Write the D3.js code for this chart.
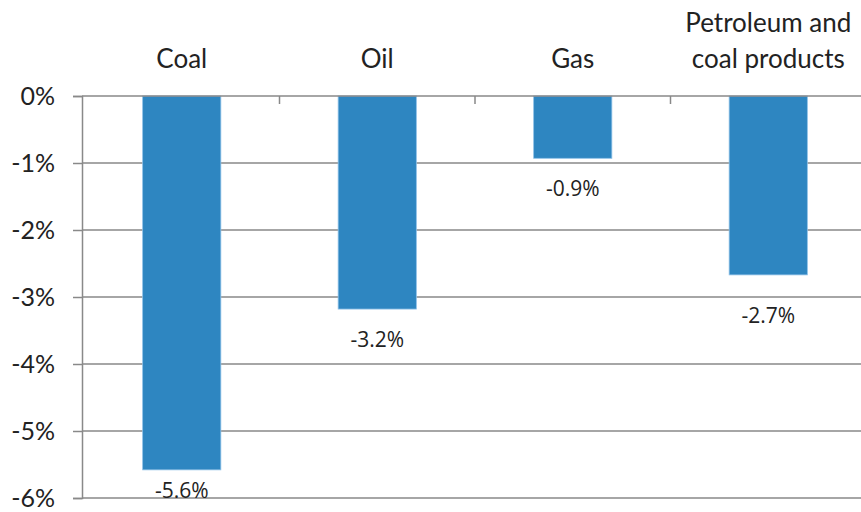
<!DOCTYPE html>
<html><head><meta charset="utf-8">
<script src="https://cdn.jsdelivr.net/npm/d3@7"></script>
<style>body{margin:0;background:#fff}</style>
</head><body>
<svg id="c" width="861" height="512"></svg>
<script>
const categories = [["Coal"], ["Oil"], ["Gas"], ["Petroleum and", "coal products"]];
const values = [-5.58, -3.18, -0.93, -2.67];
const yTicks = [0, -1, -2, -3, -4, -5, -6];

(function() {
const svg = d3.select("#c");
const mLeft = 82, mRight = 866, mTop = 96, mBottom = 498;
const x = d3.scaleBand().domain(d3.range(categories.length)).range([mLeft + 2, mRight]).paddingInner(0.6).paddingOuter(0.3);
const y = d3.scaleLinear().domain([0, -6]).range([mTop, mBottom]);
const grid = "#898989";

svg.append("g").selectAll("line").data(yTicks.filter(d => d !== 0)).join("line")
  .attr("x1", mLeft).attr("x2", 861).attr("y1", d => y(d)).attr("y2", d => y(d))
  .attr("stroke", grid).attr("stroke-width", 1.5);

svg.append("g").selectAll("rect").data(values).join("rect")
  .attr("x", (d, i) => x(i)).attr("width", x.bandwidth())
  .attr("y", y(0)).attr("height", d => y(d) - y(0))
  .attr("fill", "#2E86C1").attr("stroke", "#8FC1E8").attr("stroke-width", 0.8);

const yAxis = d3.axisLeft(y).tickValues(yTicks).tickSize(9).tickFormat(d => d + "%");
const ga = svg.append("g").attr("transform", `translate(${mLeft},0)`).call(yAxis);
ga.select(".domain").attr("stroke", grid).attr("stroke-width", 1.5);
ga.selectAll(".tick line").attr("stroke", grid).attr("stroke-width", 1.5);
ga.selectAll(".tick text").attr("font-family", "Lato, sans-serif").attr("font-size", 25)
  .attr("fill", "#222").attr("x", -27);

const bounds = d3.range(1, categories.length).map(i => x(i) - x.step() * x.paddingInner() / 2);
svg.append("line").attr("x1", mLeft).attr("x2", 861).attr("y1", y(0)).attr("y2", y(0))
  .attr("stroke", grid).attr("stroke-width", 1.5);
svg.append("g").selectAll("line").data(bounds).join("line")
  .attr("x1", d => d).attr("x2", d => d).attr("y1", y(0)).attr("y2", y(0) + 8)
  .attr("stroke", grid).attr("stroke-width", 1.5);

const cl = svg.append("g").selectAll("text").data(categories).join("text")
  .attr("text-anchor", "middle").attr("font-family", "Lato, sans-serif").attr("font-size", 26).attr("fill", "#222");
cl.each(function(lines, i) {
  const t = d3.select(this);
  const cx = x(i) + x.bandwidth() / 2;
  lines.forEach((ln, j) => {
    t.append("tspan").attr("x", cx).attr("y", 68 - (lines.length - 1 - j) * 36).text(ln);
  });
});

// label baseline: below bar; pushed below a gridline it would touch; clamped to plot bottom
const gridYs = yTicks.filter(d => d !== 0).map(d => y(d));
function labelY(v) {
  let base = y(v) + 38;
  const hit = gridYs.find(g => g >= base - 21 && g <= base);
  if (hit !== undefined) base = hit + 26;
  return Math.min(base, mBottom);
}
svg.append("g").selectAll("text").data(values).join("text")
  .attr("x", (d, i) => x(i) + x.bandwidth() / 2)
  .attr("y", d => labelY(d))
  .attr("text-anchor", "middle").attr("font-family", "'Open Sans', sans-serif").attr("font-size", 21).attr("fill", "#222")
  .text(d => d.toFixed(1) + "%");
})();
</script>
</body></html>
